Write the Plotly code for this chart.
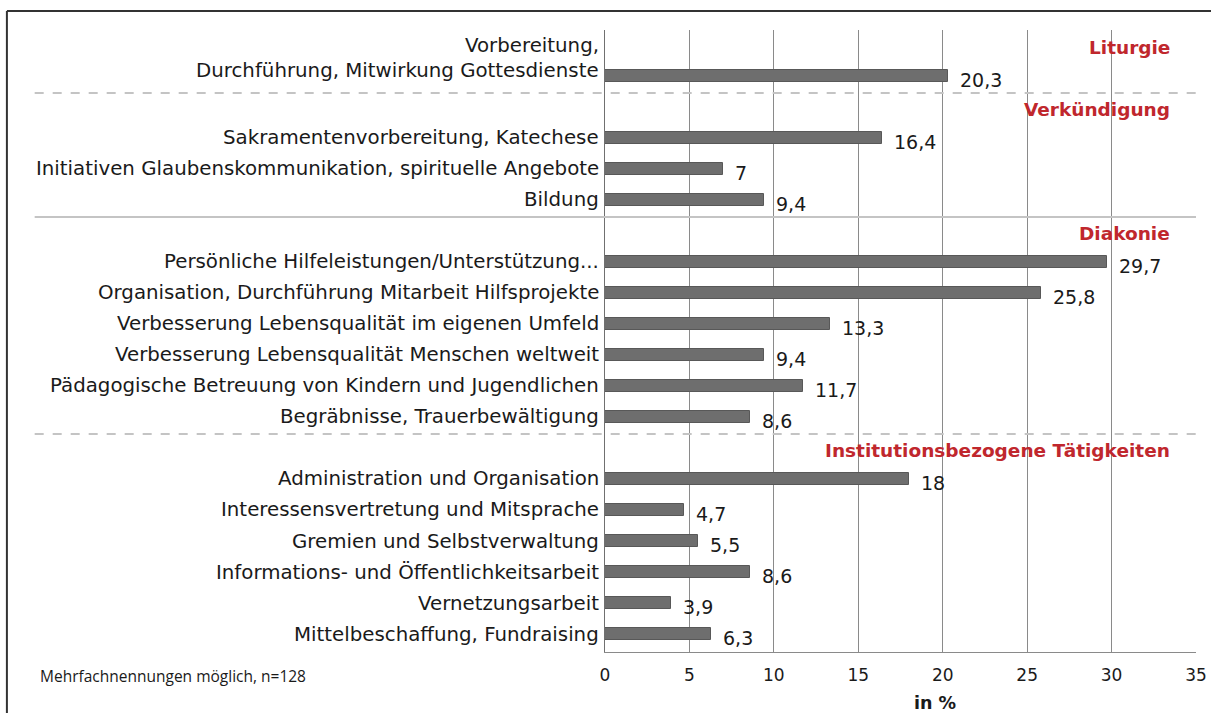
import plotly.graph_objects as go

# ---- data ----
groups = ["Liturgie", "Verkündigung", "Diakonie", "Institutionsbezogene Tätigkeiten"]
group_sizes = [1, 3, 6, 6]
categories = [
    "Vorbereitung,<br>Durchführung, Mitwirkung Gottesdienste",
    "Sakramentenvorbereitung, Katechese",
    "Initiativen Glaubenskommunikation, spirituelle Angebote",
    "Bildung",
    "Persönliche Hilfeleistungen/Unterstützung...",
    "Organisation, Durchführung Mitarbeit Hilfsprojekte",
    "Verbesserung Lebensqualität im eigenen Umfeld",
    "Verbesserung Lebensqualität Menschen weltweit",
    "Pädagogische Betreuung von Kindern und Jugendlichen",
    "Begräbnisse, Trauerbewältigung",
    "Administration und Organisation",
    "Interessensvertretung und Mitsprache",
    "Gremien und Selbstverwaltung",
    "Informations- und Öffentlichkeitsarbeit",
    "Vernetzungsarbeit",
    "Mittelbeschaffung, Fundraising",
]
values = [20.3, 16.4, 7, 9.4, 29.7, 25.8, 13.3, 9.4, 11.7, 8.6, 18, 4.7, 5.5, 8.6, 3.9, 6.3]
x_ticks = [0, 5, 10, 15, 20, 25, 30, 35]
x_title = "in %"
footnote = "Mehrfachnennungen möglich, n=128"

# ---- layout of rows: one header slot per group, then its items ----
header_pos, item_pos = [], []
slot = 0
for size in group_sizes:
    header_pos.append(slot)
    slot += 1
    for _ in range(size):
        item_pos.append(slot)
        slot += 1

LABEL_FONT = "DejaVu Sans"
fig = go.Figure()
fig.add_trace(go.Bar(
    x=values, y=item_pos, orientation="h", width=0.4,
    marker=dict(color="#6e6e6e", line=dict(color="#585858", width=1)),
    hoverinfo="skip", showlegend=False,
))

annotations = []
# category labels
for lab, pos in zip(categories, item_pos):
    lines = lab.split("<br>")
    multi = len(lines) > 1
    for k, line in enumerate(reversed(lines)):
        annotations.append(dict(
            x=0, y=pos, xref="x", yref="y", text=line, showarrow=False,
            xanchor="right", yanchor="middle", xshift=-4,
            yshift=(5 + 25 * k) if multi else 0,
            font=dict(family=LABEL_FONT, size=19.8, color="#1a1a1a"),
        ))
# value labels
for v, pos in zip(values, item_pos):
    annotations.append(dict(
        x=v, y=pos, xref="x", yref="y", text=f"{v:g}".replace(".", ","),
        showarrow=False, xanchor="left", yanchor="middle", xshift=10, yshift=-4,
        font=dict(family=LABEL_FONT, size=19, color="#1a1a1a"),
    ))
# group headers
for g, pos in zip(groups, header_pos):
    annotations.append(dict(
        x=33.6, y=pos, xref="x", yref="y", text=f"<b>{g}</b>", showarrow=False,
        xanchor="right", yanchor="middle", yshift=-3,
        font=dict(family=LABEL_FONT, size=18.5, color="#c0272d"),
    ))
# x title and footnote
annotations.append(dict(
    x=0.558, y=-0.082, xref="paper", yref="paper", text=f"<b>{x_title}</b>",
    showarrow=False, xanchor="center", yanchor="middle",
    font=dict(family=LABEL_FONT, size=17.5, color="#1a1a1a"),
))
annotations.append(dict(
    x=-0.96, y=-0.038, xref="paper", yref="paper", text=footnote,
    showarrow=False, xanchor="left", yanchor="middle",
    font=dict(family="Open Sans", size=15.5, color="#1a1a1a"),
))

shapes = []
# separators between groups
for i, pos in enumerate(header_pos[1:]):
    shapes.append(dict(
        type="line", xref="paper", yref="y", x0=-0.965, x1=1.0,
        y0=pos - 0.45, y1=pos - 0.45,
        line=dict(color="#c4c4c4", width=2, dash="dash" if i != 1 else "solid"),
    ))
# outer frame (top and left)
shapes.append(dict(type="line", xref="paper", yref="paper", x0=-1.012, x1=1.03,
                   y0=1.0305, y1=1.0305, line=dict(color="#333333", width=2)))
shapes.append(dict(type="line", xref="paper", yref="paper", x0=-1.012, x1=-1.012,
                   y0=1.0305, y1=-0.1, line=dict(color="#333333", width=2)))

fig.update_layout(
    width=1211, height=713,
    margin=dict(l=605, r=15, t=30, b=61, autoexpand=False),
    paper_bgcolor="white", plot_bgcolor="white",
    annotations=annotations, shapes=shapes,
    xaxis=dict(
        range=[0, 35], tickvals=x_ticks, ticktext=[str(t) for t in x_ticks],
        showgrid=True, gridcolor="#8a8a8a", gridwidth=1,
        zeroline=False, showline=True, linecolor="#8a8a8a", linewidth=1,
        ticks="outside", ticklen=8, tickcolor="rgba(0,0,0,0)",
        tickfont=dict(family=LABEL_FONT, size=17, color="#1a1a1a"),
        fixedrange=True, automargin=False,
    ),
    yaxis=dict(
        range=[19.58, -0.48], showticklabels=False, showgrid=False,
        zeroline=False, showline=True, linecolor="#707070", linewidth=1,
        ticks="", fixedrange=True, automargin=False,
    ),
    bargap=0,
)

fig.write_html(
    "out.html",
    config={"displayModeBar": False},
    post_script="document.body.style.margin='0';document.body.style.overflow='hidden';",
)
